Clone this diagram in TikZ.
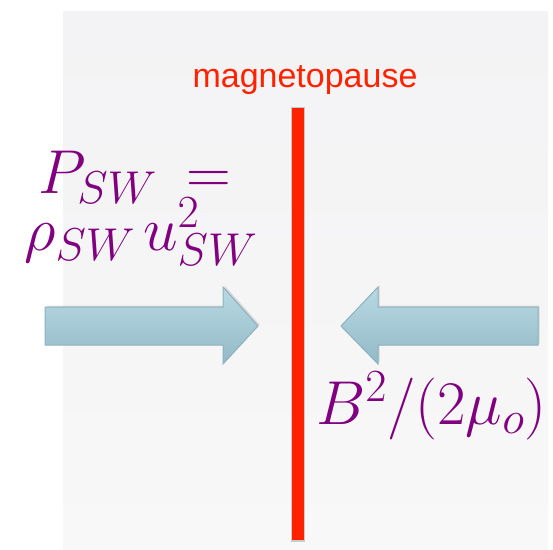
\documentclass[tikz,border=0pt]{standalone}
\usepackage{fix-cm}
\usepackage{fontspec}
\setsansfont{Liberation Sans}
\usetikzlibrary{shadows}
\DeclareMathSizes{62}{62}{46}{36}
\definecolor{bgtop}{HTML}{F3F2F4}
\definecolor{bgbot}{HTML}{F8F8F8}
\definecolor{mpred}{HTML}{FF2200}
\definecolor{arrtop}{HTML}{B8D9E4}
\definecolor{arrbot}{HTML}{93BAC7}
\definecolor{arredge}{HTML}{8DB1BD}
\definecolor{mathpurple}{HTML}{800080}
\tikzset{
  bigarrow/.style={draw=arredge, line width=1pt, top color=arrtop, bottom color=arrbot,
    drop shadow={shadow xshift=1.5pt, shadow yshift=1.5pt, opacity=0.25}},
  mathlabel/.style={text=mathpurple, inner sep=0pt, font=\fontsize{62}{68}\selectfont},
  mplabel/.style={text=mpred, inner sep=0pt, font=\sffamily\fontsize{34}{40}\selectfont}
}
\begin{document}
\begin{tikzpicture}[x=1pt,y=-1pt]
\useasboundingbox (0,0) rectangle (553,549);
\clip (0,0) rectangle (553,549);
% background panel
\shade[top color=bgtop, bottom color=bgbot] (63,11) rectangle (548,549);
% magnetopause line
\fill[black, opacity=0.18] (291,107) rectangle (305,542);
\fill[mpred] (292,108) rectangle (304,540);
\node[mplabel, anchor=base] (mp) at (305,87) {magnetopause};
% arrows
\path[bigarrow] (45,307) -- (223,307) -- (223,287) -- (258,326) -- (223,364) -- (223,345) -- (45,345) -- cycle;
\path[bigarrow] (538,307) -- (378,307) -- (378,287) -- (341,326) -- (378,364) -- (378,345) -- (538,345) -- cycle;
% labels
\node[mathlabel, anchor=base west] (psw) at (38,193) {$P_{SW}\hspace{12pt}=$};
\node[mathlabel, anchor=base west] (rho) at (24,250) {$\rho_{SW}\hspace{8pt} u^2_{SW}$};
\node[mathlabel, anchor=base west] (bmag) at (316,424) {$B^2/(2\mu_o)$};
\end{tikzpicture}
\end{document}
